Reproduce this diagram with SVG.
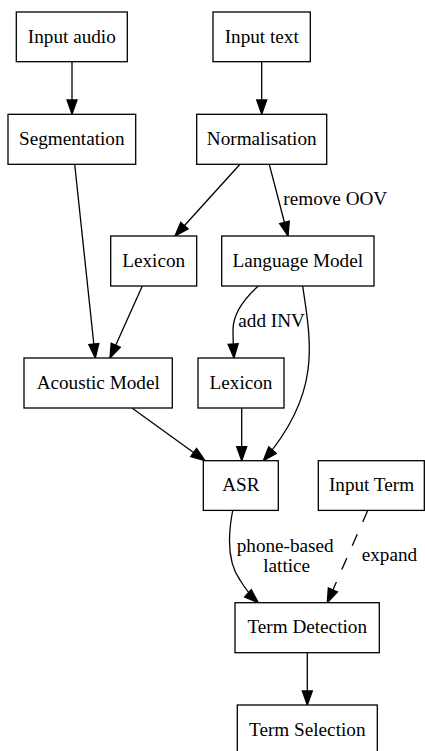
<svg xmlns="http://www.w3.org/2000/svg" width="425" height="751" viewBox="0 0 425 751">
  <style>
    .node rect { fill: #ffffff; stroke: #000000; stroke-width: 1.3; }
    .node text { font-family: "Liberation Serif", "Times New Roman", serif; font-size: 19.2px; text-anchor: middle; fill: #000000; }
    .edge { fill: none; stroke: #000000; stroke-width: 1.3; marker-end: url(#arrow); }
    .dashed { stroke-dasharray: 12.5 13.5; }
    .elabel { font-family: "Liberation Serif", "Times New Roman", serif; font-size: 19.2px; fill: #000000; }
  </style>
  <defs>
    <marker id="arrow" markerUnits="userSpaceOnUse" markerWidth="16" markerHeight="12" refX="14" refY="5" orient="auto" overflow="visible">
      <path d="M0,0 L14,5 L0,10 Z" fill="#000000" stroke="#000000" stroke-width="1.3" stroke-dasharray="none"/>
    </marker>
  </defs>
  <rect width="425" height="751" fill="#ffffff"/>

  <g id="connectors">
    <path class="edge" d="M72,62 L72,114"/>
    <path class="edge" d="M261.7,62 L261.7,114"/>
    <path class="edge" d="M74.7,164.3 L95.3,358"/>
    <path class="edge" d="M240,164.3 L175,236"/>
    <path class="edge" d="M269.3,164.3 L288,236"/>
    <path class="edge" d="M142.3,286 L110,358"/>
    <path class="edge" d="M258.3,286 C245,298 233,313 233,330 C233,340 233.5,350 234,358"/>
    <path class="edge" d="M302.7,286 C306,310 312,340 308,370 C304,400 290,430 263.3,460.7"/>
    <path class="edge" d="M132.3,408.3 L205,460.7"/>
    <path class="edge" d="M241.7,408 L241.7,460.7"/>
    <path class="edge" d="M232.7,510.5 C228,535 227,562 240,580 C246,590 252,597 258.3,602.7"/>
    <path class="edge dashed" d="M367.7,510.5 L327.3,602.7"/>
    <path class="edge" d="M307.3,652.7 L307.3,705"/>
    <text class="elabel" x="283.3" y="205">remove OOV</text>
    <text class="elabel" x="238.3" y="327">add INV</text>
    <text class="elabel" x="236.7" y="551.7">phone-based</text>
    <text class="elabel" x="286.7" y="571.7" text-anchor="middle">lattice</text>
    <text class="elabel" x="361.7" y="560.7">expand</text>
  </g>

  <g id="input-audio" class="node">
    <rect x="16.3" y="12" width="111" height="49.7"/>
    <text x="71.8" y="42.7">Input audio</text>
  </g>
  <g id="input-text" class="node">
    <rect x="213" y="12" width="97.3" height="49.7"/>
    <text x="261.7" y="42.7">Input text</text>
  </g>
  <g id="segmentation" class="node">
    <rect x="8" y="114.3" width="127.7" height="50"/>
    <text x="71.8" y="145">Segmentation</text>
  </g>
  <g id="normalisation" class="node">
    <rect x="196.7" y="114.3" width="130" height="50"/>
    <text x="261.7" y="145">Normalisation</text>
  </g>
  <g id="lexicon-1" class="node">
    <rect x="110.7" y="236" width="86" height="50"/>
    <text x="153.7" y="266.7">Lexicon</text>
  </g>
  <g id="language-model" class="node">
    <rect x="221.7" y="236" width="152.3" height="50"/>
    <text x="297.8" y="266.7">Language Model</text>
  </g>
  <g id="acoustic-model" class="node">
    <rect x="24" y="358" width="148.3" height="50"/>
    <text x="98.2" y="388.7">Acoustic Model</text>
  </g>
  <g id="lexicon-2" class="node">
    <rect x="198" y="358" width="86" height="50"/>
    <text x="241" y="388.7">Lexicon</text>
  </g>
  <g id="asr" class="node">
    <rect x="203.3" y="460.7" width="75" height="49.7"/>
    <text x="240.8" y="491.2">ASR</text>
  </g>
  <g id="input-term" class="node">
    <rect x="318.3" y="460.7" width="106" height="49.7"/>
    <text x="371.5" y="491.2">Input Term</text>
  </g>
  <g id="term-detection" class="node">
    <rect x="235" y="602.7" width="144.3" height="50"/>
    <text x="307.2" y="633.4">Term Detection</text>
  </g>
  <g id="term-selection" class="node">
    <rect x="237.3" y="705" width="140" height="50"/>
    <text x="307.3" y="735.7">Term Selection</text>
  </g>
</svg>
